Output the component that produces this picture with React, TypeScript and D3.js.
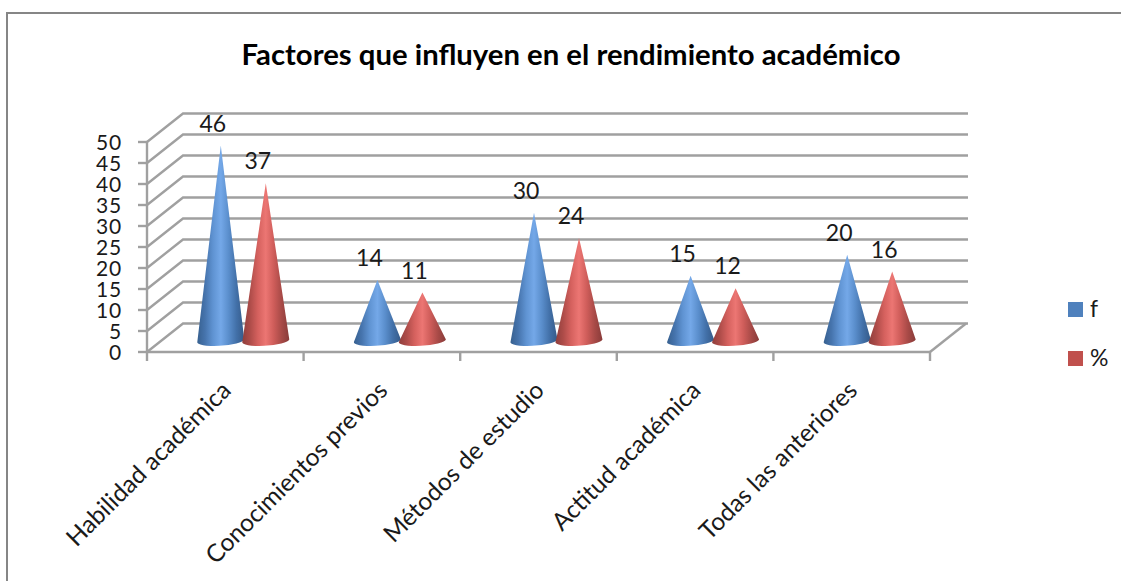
import React from "react";
import * as d3 from "d3";

const title = "Factores que influyen en el rendimiento académico";
const categories = ["Habilidad académica", "Conocimientos previos", "Métodos de estudio", "Actitud académica", "Todas las anteriores"];
const fValues = [46, 14, 30, 15, 20];
const pctValues = [37, 11, 24, 12, 16];
const yTicks = [0, 5, 10, 15, 20, 25, 30, 35, 40, 45, 50];
const seriesNames = ["f", "%"];

const W = 1121, H = 581;
const font = "Lato, 'Open Sans', sans-serif";
const gridCol = "#a0a0a0";
const textCol = "#1a1a1a";

const yFront = d3.scaleLinear().domain([0, 50]).range([352, 142]);
const xFront = d3.scaleBand<number>().domain(d3.range(categories.length)).range([147, 930]);
const depthX = 36, depthY = -28.5;
const midDepth = 0.5;
const baseOffset = -11;
const coneOffset = 22.5, coneRx = 23.5, coneRy = 5;

function Cone({ cx, value, fill }: { cx: number; value: number; fill: string }) {
  const baseY = 352 + baseOffset;
  const tipY = yFront(value) + depthY * midDepth + 1;
  const d = `M${cx},${tipY} L${cx + coneRx},${baseY - 1.5} A${coneRx},${coneRy} -4 0 1 ${cx - coneRx},${baseY + 1} Z`;
  return <path d={d} fill={`url(#${fill})`} />;
}

function Grad({ id, stops }: { id: string; stops: string[] }) {
  return (
    <linearGradient id={id} x1="0" x2="1" y1="0" y2="0">
      {stops.map((c, i) => (
        <stop key={i} offset={i / (stops.length - 1)} stopColor={c} />
      ))}
    </linearGradient>
  );
}

export default function App() {
  const bw = xFront.bandwidth();
  const x0 = xFront.range()[0], x1 = xFront.range()[1];
  return (
    <svg width={W} height={H} style={{ position: "absolute", left: 0, top: 0, background: "#fff" }} fontFamily={font}>
      <defs>
        <Grad id="blue" stops={["#37608f", "#4674ad", "#5f93d2", "#74a8e8", "#5a8ecc", "#4270a8", "#355a88"]} />
        <Grad id="red" stops={["#8f3e3c", "#ae4c49", "#d5615e", "#ec7673", "#cf5d5a", "#a84a47", "#883b39"]} />
      </defs>
      <path d={`M1121,13 H7 V581`} fill="none" stroke="#868686" strokeWidth={2} />
      <text x={571} y={65} textAnchor="middle" fontSize={28} fontWeight={700} fill="#000" textLength={659} lengthAdjust="spacingAndGlyphs">{title}</text>

      {yTicks.map((t) => {
        const y = yFront(t);
        return (
          <g key={t} stroke={gridCol} strokeWidth={2.4} fill="none">
            <path d={`M${x0},${y} L${x0 + depthX},${y + depthY} H${x1 + depthX + 2}`} />
            <line x1={x0 - 9} x2={x0} y1={y} y2={y} />
          </g>
        );
      })}
      <line x1={x1} x2={x1 + depthX} y1={yFront(0)} y2={yFront(0) + depthY} stroke={gridCol} strokeWidth={2.4} />
      <line x1={x0} x2={x0} y1={yFront(50)} y2={yFront(0)} stroke={gridCol} strokeWidth={2.4} />
      <line x1={x0} x2={x1} y1={yFront(0)} y2={yFront(0)} stroke={gridCol} strokeWidth={2.4} />
      {d3.range(categories.length + 1).map((i) => (
        <line key={i} x1={x0 + bw * i} x2={x0 + bw * i} y1={352} y2={361} stroke={gridCol} strokeWidth={2.4} />
      ))}

      {yTicks.map((t) => (
        <text key={t} x={122} y={yFront(t) + 8} textAnchor="end" fontSize={21} letterSpacing={0.8} fill={textCol}>{t}</text>
      ))}

      {categories.map((c, i) => {
        const cx = (xFront(i) as number) + bw / 2 + depthX * midDepth;
        return (
          <g key={c}>
            <Cone cx={cx - coneOffset} value={fValues[i]} fill="blue" />
            <Cone cx={cx + coneOffset} value={pctValues[i]} fill="red" />
            <text x={cx - coneOffset - 8} y={yFront(fValues[i]) + depthY * midDepth - 13} textAnchor="middle" fontSize={23} fill={textCol}>{fValues[i]}</text>
            <text x={cx + coneOffset - 8} y={yFront(pctValues[i]) + depthY * midDepth - 13} textAnchor="middle" fontSize={23} fill={textCol}>{pctValues[i]}</text>
            <text
              transform={`translate(${(xFront(i) as number) + bw / 2 + 7},${392}) rotate(-45)`}
              textAnchor="end"
              fontSize={24.5}
              fill={textCol}
            >{c}</text>
          </g>
        );
      })}

      {seriesNames.map((s, i) => (
        <g key={s}>
          <rect x={1068} y={302 + i * 49} width={15} height={15} fill={i === 0 ? "#4f81bd" : "#c0504d"} />
          <text x={1090} y={317 + i * 49} fontSize={23} fill={textCol}>{s}</text>
        </g>
      ))}
    </svg>
  );
}
